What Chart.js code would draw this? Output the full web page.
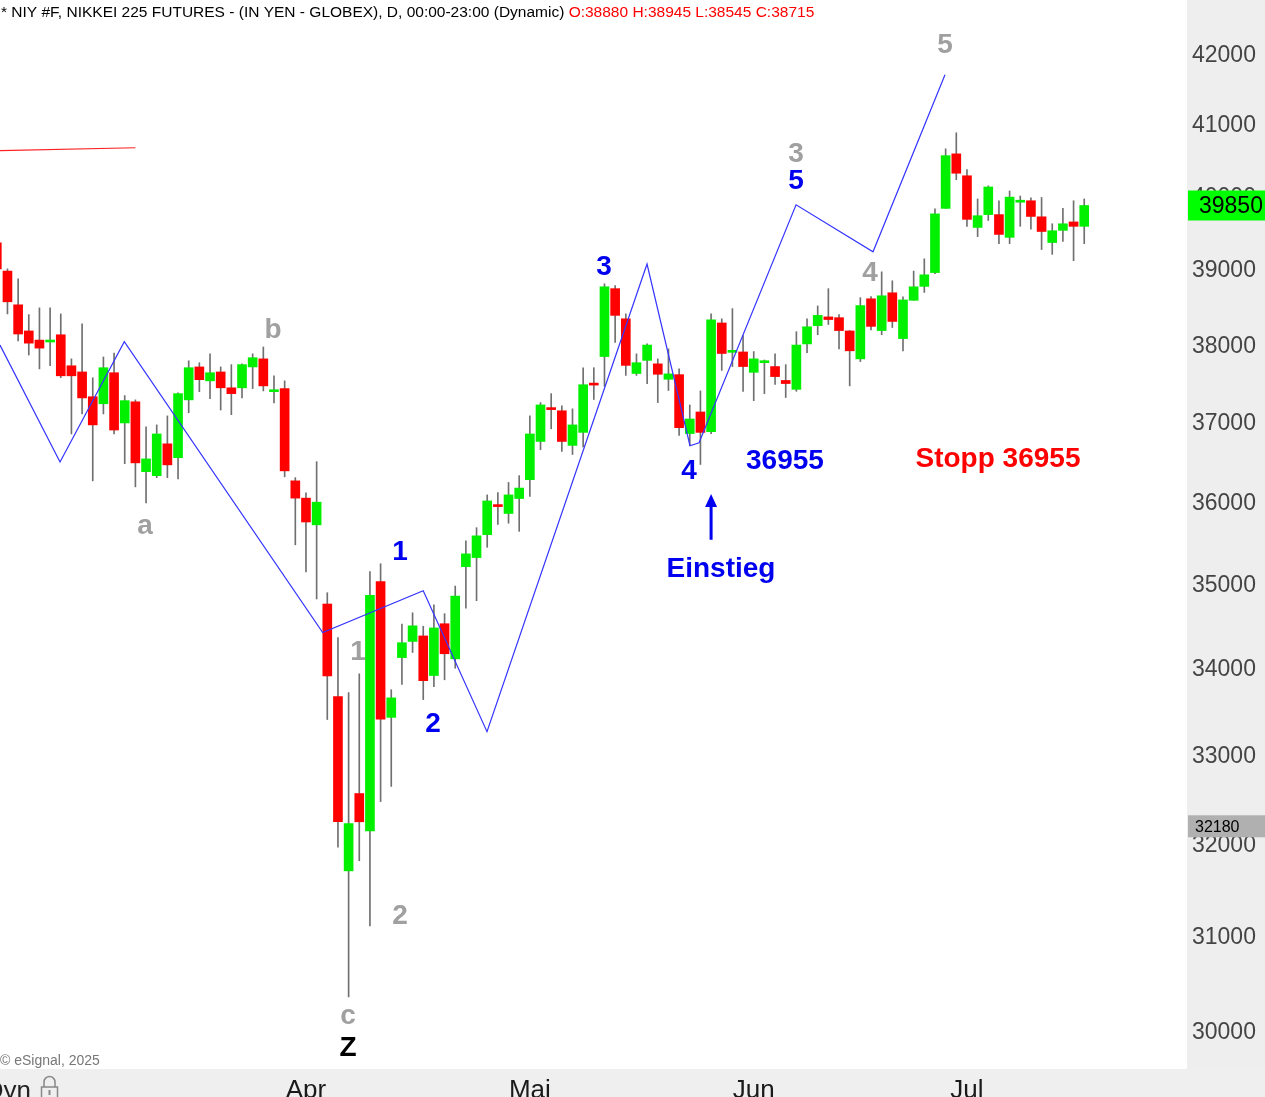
<!DOCTYPE html>
<html>
<head>
<meta charset="utf-8">
<script src="https://cdn.jsdelivr.net/npm/chart.js@4.4.1/dist/chart.umd.min.js"></script>
<style>
  html, body { margin: 0; padding: 0; background: #fff; }
  #wrap { width: 1265px; height: 1097px; position: relative; overflow: hidden; }
</style>
</head>
<body>
<div id="wrap"><canvas id="chart" width="1265" height="1097"></canvas></div>
<script>
// daily bars, index 0 = first visible bar (mid Feb), 29 = 1 Apr, 50 = 1 May, 71 = 2 Jun, 91 = 1 Jul
const opens = [39340, 38960, 38510, 38165, 38045, 38020, 38115, 37710, 37630, 37310,
  37220, 37620, 36975, 37245, 36360, 36310, 36710, 36535, 37270, 37695,
  37515, 37630, 37425, 37425, 37695, 37800, 37375, 37415, 36245, 36030,
  35700, 34740, 33650, 31690, 32545, 32130, 35010, 33410, 34105, 34295,
  34360, 33895, 34505, 34090, 35190, 35300, 35580, 35935, 35840, 36025,
  36260, 36740, 37150, 37130, 36690, 36855, 37470, 37830, 38725, 38325,
  37610, 37780, 37735, 37535, 37595, 36840, 37115, 36865, 38270, 37885,
  37890, 37625, 37750, 37700, 37520, 37405, 37995, 38235, 38350, 38340,
  38165, 37800, 38590, 38170, 38670, 38065, 38570, 38755, 38940, 39810,
  40565, 40260, 39550, 39725, 39725, 39415, 39895, 39915, 39695, 39345,
  39510, 39625, 39565];
const highs = [39410, 38990, 38855, 38380, 38470, 38470, 38390, 37800, 38260, 37555,
  37825, 37875, 37325, 37270, 36925, 36950, 37065, 37360, 37775, 37750,
  37865, 37695, 37725, 37735, 37865, 37955, 37580, 37515, 36285, 36095,
  36485, 34875, 34340, 33695, 33915, 35130, 35225, 33730, 34500, 34635,
  34475, 34730, 34625, 34955, 35505, 35665, 36070, 36100, 36225, 36310,
  37065, 37235, 37350, 37195, 37155, 37685, 37685, 38790, 38765, 38390,
  37865, 37995, 37800, 37930, 37670, 37205, 37385, 38390, 38325, 38460,
  38105, 37895, 37785, 37865, 37725, 38155, 38325, 38495, 38725, 38380,
  38170, 38605, 38620, 38950, 38830, 38615, 38960, 39125, 39805, 40635,
  40860, 40345, 39940, 40120, 39915, 40050, 39980, 39955, 39960, 39600,
  39810, 39915, 39940];
const lows = [38910, 38390, 38035, 37850, 37670, 37710, 37555, 36835, 37090, 36245,
  37090, 36835, 36460, 36170, 35970, 36285, 36285, 36270, 37105, 37375,
  37285, 37140, 37080, 37295, 37415, 37385, 37230, 36295, 35455, 35125,
  34800, 33385, 31950, 30345, 31800, 31095, 32455, 32625, 33790, 34165,
  33615, 33765, 33845, 33980, 34690, 34780, 35425, 35705, 35720, 35620,
  36050, 36635, 36900, 36615, 36575, 36670, 37275, 37445, 38015, 37585,
  37585, 37480, 37235, 37390, 36815, 36690, 36450, 36840, 37650, 37700,
  37380, 37260, 37350, 37470, 37300, 37380, 37880, 38115, 38250, 37930,
  37450, 37765, 38180, 38115, 38210, 37905, 38570, 38675, 38925, 39810,
  40205, 39565, 39425, 39645, 39330, 39330, 39565, 39525, 39250, 39185,
  39360, 39100, 39330];
const closes = [38990, 38550, 38125, 38005, 37940, 38045, 37580, 37580, 37295, 36950,
  37685, 36885, 37260, 36470, 36520, 36835, 36445, 37350, 37685, 37530,
  37620, 37425, 37350, 37725, 37815, 37450, 37390, 36370, 36030, 35735,
  35980, 33890, 32230, 32210, 32230, 34845, 33390, 33635, 34280, 34480,
  33835, 34455, 34150, 34835, 35345, 35565, 35995, 35925, 36070, 36155,
  36835, 37205, 37145, 36740, 36950, 37465, 37460, 38750, 38370, 37715,
  37750, 37980, 37600, 37605, 36915, 37025, 36855, 38310, 37870, 37895,
  37700, 37800, 37755, 37570, 37480, 37980, 38220, 38370, 38315, 38170,
  37905, 38500, 38225, 38630, 38290, 38575, 38750, 38910, 39735, 40540,
  40295, 39660, 39710, 40105, 39455, 39965, 39905, 39700, 39495, 39505,
  39600, 39565, 39850];

const monthTicks = [29, 50, 71, 91];
const monthNames = ['Apr', 'Mai', 'Jun', 'Jul'];
const priceTicks = [30000, 31000, 32000, 33000, 34000, 35000, 36000, 37000, 38000, 39000, 40000, 41000, 42000];

// hand drawn wave count line
const waveIdx = [0.3, 5.93, 11.96, 30.57, 40.0, 45.98, 60.99, 65.02, 65.87, 74.97, 82.19, 88.94];
const wavePrice = [37980, 36480, 38025, 34400, 34900, 33245, 39055, 36686, 36723, 39859, 39219, 41686];
// old red trend line, top left
const redIdx = [0.3, 13.0];
const redPrice = [40610, 40650];

const markPrice = 32180;
const notes = [
  { text: 'a', i: 13.9, p: 35676, tone: 'grey' },
  { text: 'b', i: 25.91, p: 38206, tone: 'grey' },
  { text: 'c', i: 32.94, p: 30137, tone: 'grey' },
  { text: 'Z', i: 32.94, p: 29835, tone: 'black' },
  { text: '1', i: 33.88, p: 34184, tone: 'grey' },
  { text: '2', i: 37.82, p: 31214, tone: 'grey' },
  { text: '1', i: 37.82, p: 35383, tone: 'blue' },
  { text: '2', i: 40.92, p: 33349, tone: 'blue' },
  { text: '3', i: 56.96, p: 39029, tone: 'blue' },
  { text: '4', i: 64.93, p: 36384, tone: 'blue' },
  { text: '36955', i: 73.93, p: 36509, tone: 'blue' },
  { text: 'Einstieg', i: 67.93, p: 35151, tone: 'blue' },
  { text: '3', i: 74.96, p: 40581, tone: 'grey' },
  { text: '5', i: 74.96, p: 40204, tone: 'blue' },
  { text: '4', i: 81.91, p: 38948, tone: 'grey' },
  { text: '5', i: 88.94, p: 42129, tone: 'grey' },
  { text: 'Stopp 36955', i: 93.91, p: 36497, tone: 'red' },
];
const arrow = { i: 67.0, from: 35517, to: 36082 };

const toneColors = { grey: '#a0a0a0', blue: '#0000f0', red: '#ff0000', black: '#000000' };
const UP = '#00f000', DOWN = '#ff0000';
const FONT = '"Liberation Sans", Arial, sans-serif';

const idx = opens.map((_, i) => i);
const wickData = idx.map(i => ({ x: i, y: [lows[i], highs[i]] }));
const bodyData = idx.map(i => ({ x: i, y: [opens[i], closes[i]] }));
const bodyColors = idx.map(i => closes[i] > opens[i] ? UP : DOWN);

const bgPlugin = {
  id: 'bg',
  beforeDraw(chart) {
    const { ctx, chartArea: a, width, height } = chart;
    ctx.save();
    ctx.fillStyle = '#ffffff';
    ctx.fillRect(0, 0, width, height);
    ctx.fillStyle = '#eeeeee';
    ctx.fillRect(a.right, 0, width - a.right, height);
    ctx.fillStyle = '#efefef';
    ctx.fillRect(0, a.bottom + 1, width, height - a.bottom);
    ctx.restore();
  }
};

const notesPlugin = {
  id: 'notes',
  afterDatasetsDraw(chart) {
    const { ctx, scales: { x, y } } = chart;
    ctx.save();
    ctx.font = 'bold 28px ' + FONT;
    ctx.textAlign = 'center';
    ctx.textBaseline = 'alphabetic';
    notes.forEach(n => {
      const m = ctx.measureText(n.text);
      const cy = y.getPixelForValue(n.p);
      ctx.fillStyle = toneColors[n.tone];
      ctx.fillText(n.text, x.getPixelForValue(n.i), cy + (m.actualBoundingBoxAscent - m.actualBoundingBoxDescent) / 2);
    });
    // entry arrow
    const ax = x.getPixelForValue(arrow.i);
    const y0 = y.getPixelForValue(arrow.from), y1 = y.getPixelForValue(arrow.to);
    ctx.strokeStyle = '#0000f0';
    ctx.fillStyle = '#0000f0';
    ctx.lineWidth = 3;
    ctx.beginPath();
    ctx.moveTo(ax, y0);
    ctx.lineTo(ax, y1 + 10);
    ctx.stroke();
    ctx.beginPath();
    ctx.moveTo(ax, y1);
    ctx.lineTo(ax - 6, y1 + 13);
    ctx.lineTo(ax + 6, y1 + 13);
    ctx.closePath();
    ctx.fill();
    ctx.restore();
  }
};

const overlayPlugin = {
  id: 'overlay',
  afterDraw(chart) {
    const { ctx, chartArea: a, width, scales: { y } } = chart;
    ctx.save();
    // header
    ctx.font = '15.5px ' + FONT;
    ctx.textAlign = 'left';
    ctx.textBaseline = 'alphabetic';
    const head = '* NIY #F, NIKKEI 225 FUTURES - (IN YEN - GLOBEX), D, 00:00-23:00 (Dynamic) ';
    ctx.fillStyle = '#000000';
    ctx.fillText(head, 1, 17);
    ctx.fillStyle = '#ff0000';
    ctx.fillText('O:38880 H:38945 L:38545 C:38715', 1 + ctx.measureText(head).width, 17);

    ctx.font = '14px ' + FONT;
    ctx.fillStyle = '#777777';
    ctx.fillText('\u00a9 eSignal, 2025', 0, 1065);

    // bottom left "Dyn" and lock
    ctx.font = '26px ' + FONT;
    ctx.fillStyle = '#222222';
    ctx.textAlign = 'right';
    ctx.fillText('Dyn', 31, 1099);
    ctx.strokeStyle = '#888888';
    ctx.lineWidth = 1.5;
    ctx.beginPath();
    ctx.arc(49.5, 1082, 5.5, Math.PI, 0);
    ctx.lineTo(55, 1087);
    ctx.moveTo(44, 1087);
    ctx.lineTo(44, 1082);
    ctx.stroke();
    ctx.strokeRect(41.5, 1087, 16, 11);
    ctx.fillStyle = '#888888';
    ctx.fillRect(48.5, 1090, 2, 5);

    // last price box
    const lastY = y.getPixelForValue(closes[closes.length - 1]);
    ctx.fillStyle = '#00ff00';
    ctx.fillRect(a.right + 1, lastY - 15, width - a.right, 30);
    ctx.fillStyle = '#000000';
    ctx.font = '23px ' + FONT;
    ctx.textAlign = 'left';
    ctx.textBaseline = 'middle';
    ctx.fillText(String(closes[closes.length - 1]), a.right + 12, lastY + 1);

    // marker box
    const my = y.getPixelForValue(markPrice);
    ctx.fillStyle = '#b0b0b0';
    ctx.fillRect(a.right + 1, my - 11, width - a.right, 22);
    ctx.fillStyle = '#000000';
    ctx.font = '16px ' + FONT;
    ctx.fillText(String(markPrice), a.right + 8, my + 1);
    ctx.restore();
  }
};

new Chart(document.getElementById('chart'), {
  type: 'bar',
  data: {
    datasets: [
      { type: 'line', data: waveIdx.map((v, k) => ({ x: v, y: wavePrice[k] })), borderColor: '#3434ff', borderWidth: 1.2, pointRadius: 0, tension: 0, order: 0 },
      { type: 'line', data: redIdx.map((v, k) => ({ x: v, y: redPrice[k] })), borderColor: '#ff2020', borderWidth: 1.2, pointRadius: 0, tension: 0, order: 0 },
      { data: bodyData, backgroundColor: bodyColors, barThickness: 9, minBarLength: 2, grouped: false, borderWidth: 0, order: 1 },
      { data: wickData, backgroundColor: '#707070', barThickness: 1, grouped: false, borderWidth: 0, order: 2 },
    ]
  },
  options: {
    responsive: false,
    animation: false,
    events: [],
    layout: { padding: 0 },
    plugins: { legend: { display: false }, tooltip: { enabled: false } },
    scales: {
      x: {
        type: 'linear',
        position: 'bottom',
        min: 0.3,
        max: 111.64,
        bounds: 'data',
        offset: false,
        grid: { display: false, drawTicks: false },
        border: { display: false },
        afterBuildTicks: s => { s.ticks = monthTicks.map(v => ({ value: v })); },
        afterFit: s => { s.height = 29; s.paddingLeft = 0; s.paddingRight = 0; },
        ticks: {
          autoSkip: false,
          maxRotation: 0,
          padding: 7,
          color: '#1a1a1a',
          font: { family: FONT, size: 26 },
          callback: v => monthNames[monthTicks.indexOf(v)] || ''
        }
      },
      y: {
        type: 'logarithmic',
        position: 'right',
        min: 29610,
        max: 42772,
        bounds: 'data',
        grid: { display: false, drawTicks: false },
        border: { display: false },
        afterBuildTicks: s => { s.ticks = priceTicks.map(v => ({ value: v })); },
        afterFit: s => { s.width = 78; s.paddingTop = 0; s.paddingBottom = 0; },
        ticks: {
          autoSkip: false,
          padding: 5,
          labelOffset: 3,
          color: '#444444',
          font: { family: FONT, size: 23 },
          callback: v => String(v)
        }
      }
    }
  },
  plugins: [bgPlugin, notesPlugin, overlayPlugin]
});
</script>
</body>
</html>
